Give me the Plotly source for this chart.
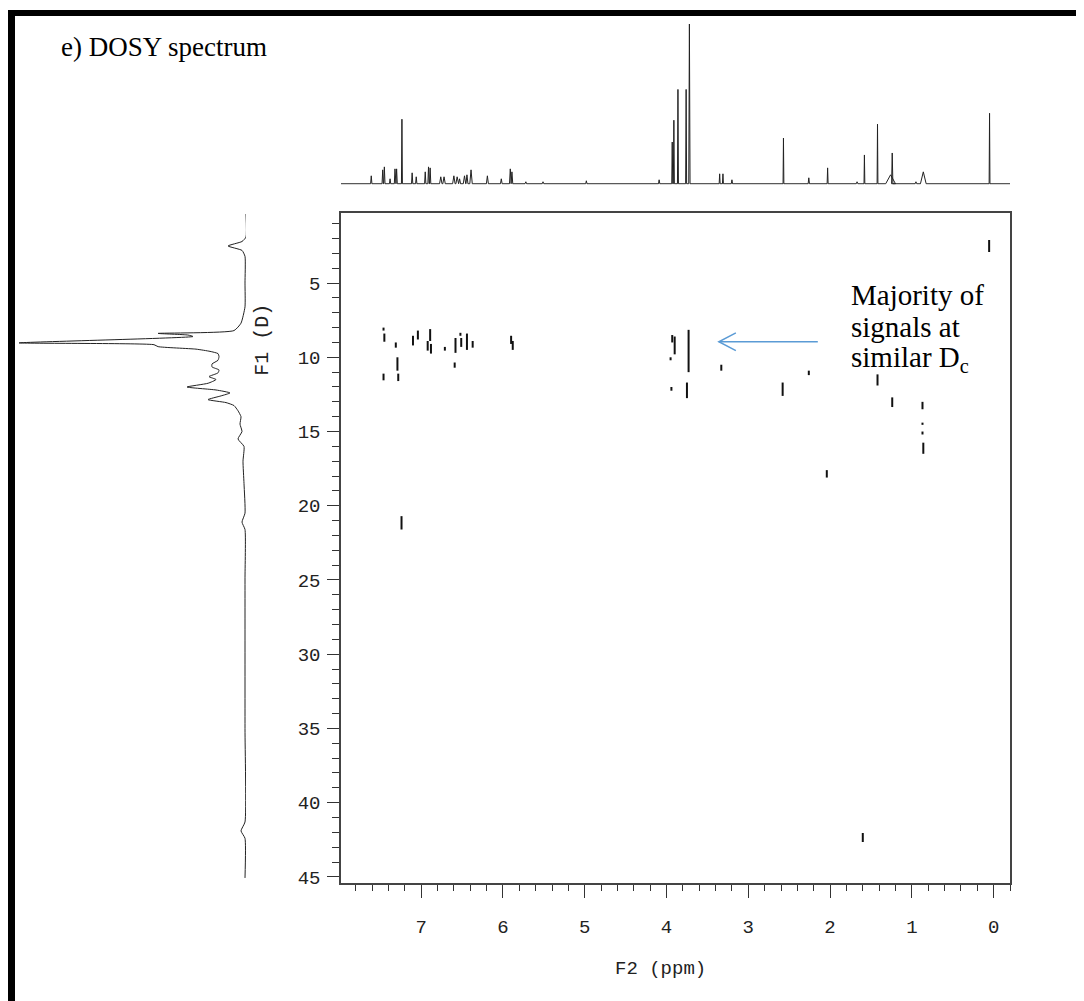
import plotly.graph_objects as go

W, H = 1084, 1001
OFF = 8  # page body margin in the browser

# ---------------- data ----------------
# 1D projection (top): peak positions (ppm), heights (rel.), half widths (ppm)
top_ppm = [7.61, 7.47, 7.45, 7.38, 7.32, 7.30, 7.235, 7.11, 7.06, 6.95, 6.91, 6.89,
           6.76, 6.72, 6.60, 6.56, 6.53, 6.47, 6.44, 6.39, 6.19, 6.02, 5.91, 5.89,
           5.72, 5.51, 4.98, 4.09, 3.93, 3.91, 3.86, 3.76, 3.72, 3.35, 3.31, 3.20,
           2.57, 2.26, 2.03, 1.67, 1.58, 1.42, 1.26, 1.24, 0.95, 0.86, 0.05]
top_int = [8, 14, 17, 5, 15, 15, 65, 11, 7, 12, 17, 16,
           7, 7, 8, 7, 5, 8, 9, 14, 8, 5, 15, 12,
           2, 2, 3, 4, 42, 64, 95, 95, 161, 10, 10, 4,
           46, 6, 16, 2, 29, 60, 9, 31, 2, 12, 71]
top_hw = [0.008, 0.008, 0.008, 0.008, 0.008, 0.008, 0.006, 0.008, 0.008, 0.008, 0.008, 0.008,
          0.015, 0.015, 0.015, 0.015, 0.012, 0.015, 0.012, 0.015, 0.012, 0.01, 0.01, 0.01,
          0.01, 0.01, 0.008, 0.008, 0.006, 0.006, 0.006, 0.006, 0.008, 0.006, 0.006, 0.008,
          0.005, 0.008, 0.006, 0.01, 0.005, 0.005, 0.06, 0.008, 0.01, 0.035, 0.005]

# 1D projection (left): diffusion value vs. intensity
proj_d = [0.35, 1.9, 2.2, 2.5, 2.8, 3.2, 5.0, 6.6, 7.7, 8.2, 8.39, 8.5, 8.6, 9.03, 9.15,
          9.28, 9.45, 9.6, 9.75, 9.95, 10.2, 10.45, 10.65, 10.85, 11.05, 11.3, 11.5,
          11.75, 12.0, 12.2, 12.4, 12.6, 12.85, 13.05, 13.25, 13.6, 14.0, 14.5, 15.0,
          15.5, 16.0, 17.0, 18.5, 20.5, 21.1, 21.6, 25.0, 35.0, 41.3, 41.9, 42.4, 45.07]
proj_int = [0, 0, 4, 18, 4, 1, 1, 1, 5, 12, 88, 58, 53, 227, 92,
            88, 50, 36, 28, 27, 28, 34, 34, 27, 28, 37, 30,
            38, 59, 30, 16, 25, 38, 20, 12, 8, 5, 6, 4,
            8, 2, 3, 2, 1, 4, 1, 1, 1, 1, 5, 1, 1]

# 2D DOSY cross peaks: chemical shift (ppm), D start, D end
sig_ppm = [7.46, 7.45, 7.31, 7.29, 7.46, 7.28, 7.10, 7.04, 6.92, 6.89, 6.88, 6.71,
           6.58, 6.52, 6.51, 6.44, 6.37, 6.59, 5.90, 5.88, 7.24,
           3.93, 3.90, 3.95, 3.73, 3.94, 3.75, 3.33, 2.58, 2.26, 1.42, 1.24,
           0.87, 0.87, 0.87, 0.86, 0.055, 2.04, 1.60]
sig_d0 = [8.0, 8.4, 9.0, 10.0, 11.1, 11.1, 8.55, 8.2, 8.9, 8.1, 9.1, 9.3,
          8.7, 8.35, 8.7, 8.4, 8.9, 10.35, 8.55, 8.9, 20.7,
          8.5, 8.6, 10.0, 8.15, 12.0, 11.7, 10.5, 11.7, 10.9, 11.15, 12.7,
          13.0, 14.4, 15.0, 15.75, 2.1, 17.6, 42.05]
sig_d1 = [8.2, 8.95, 9.35, 10.9, 11.55, 11.6, 9.2, 8.8, 9.55, 8.9, 9.75, 9.55,
          9.7, 8.55, 9.3, 9.5, 9.35, 10.7, 9.1, 9.5, 21.6,
          9.0, 9.8, 10.2, 11.0, 12.25, 12.75, 10.9, 12.6, 11.2, 11.9, 13.35,
          13.5, 14.55, 15.2, 16.5, 2.9, 18.1, 42.65]

x_ticks = [0, 1, 2, 3, 4, 5, 6, 7]
y_ticks = [5, 10, 15, 20, 25, 30, 35, 40, 45]

note_lines = ["Majority of", "signals at", "similar D<sub>c</sub>"]

# ---------------- build traces ----------------
order = sorted(range(len(top_ppm)), key=lambda i: -top_ppm[i])
tx, ty = [8.0], [0]
for i in order:
    p, h, w = top_ppm[i], top_int[i], top_hw[i]
    tx += [p + w, p, p - w]
    ty += [0, h, 0]
tx.append(-0.2)
ty.append(0)

sx, sy = [], []
for p, a, b in zip(sig_ppm, sig_d0, sig_d1):
    sx += [p, p, None]
    sy += [a, b, None]

fig = go.Figure()
fig.add_trace(go.Scatter(x=sx, y=sy, mode="lines", line=dict(color="#111", width=2),
                         xaxis="x", yaxis="y", hoverinfo="skip"))
fig.add_trace(go.Scatter(x=tx, y=ty, mode="lines", line=dict(color="#222", width=1),
                         xaxis="x2", yaxis="y2", hoverinfo="skip"))
fig.add_trace(go.Scatter(x=proj_int, y=proj_d, mode="lines",
                         line=dict(color="#222", width=1, shape="spline", smoothing=0.5),
                         xaxis="x3", yaxis="y3", hoverinfo="skip"))

def px(x):
    return (x - OFF) / W

def py(y):
    return 1 - (y - OFF) / H

mono = dict(family="Liberation Mono, Courier New, monospace", size=19, color="#222")
serif = "Liberation Serif, Times New Roman, serif"

X_RANGE = [7.98, -0.2]
Y_RANGE = [45.4, 0.25]

fig.update_layout(
    width=W, height=H, margin=dict(l=0, r=0, t=0, b=0),
    paper_bgcolor="white", plot_bgcolor="white", showlegend=False,
    xaxis=dict(domain=[px(341), px(1010)], range=X_RANGE, tickvals=x_ticks,
               ticks="outside", ticklen=13, tickwidth=1, tickcolor="#333",
               minor=dict(dtick=0.2, tick0=0, ticks="outside", ticklen=6, tickcolor="#333"),
               showline=True, linecolor="#444", linewidth=1.5, mirror=True,
               showgrid=False, zeroline=False, tickfont=mono, ticklabelstandoff=13),
    yaxis=dict(domain=[py(889), py(214)], range=Y_RANGE, tickvals=y_ticks,
               ticks="outside", ticklen=12, tickwidth=1, tickcolor="#333",
               minor=dict(dtick=1, tick0=0, ticks="outside", ticklen=7, tickcolor="#333"),
               showline=True, linecolor="#444", linewidth=1.5, mirror=True,
               showgrid=False, zeroline=False, tickfont=mono, ticklabelstandoff=3),
    xaxis2=dict(domain=[px(341), px(1010)], range=X_RANGE, visible=False, anchor="y2"),
    yaxis2=dict(domain=[py(186), py(24)], range=[-1, 161], visible=False, anchor="x2"),
    xaxis3=dict(domain=[px(19), px(246)], range=[227, 0], visible=False, anchor="y3"),
    yaxis3=dict(domain=[py(889), py(214)], range=Y_RANGE, visible=False, anchor="x3"),
)

# borders of the figure panel
fig.add_shape(type="rect", xref="paper", yref="paper", x0=px(8), x1=1, y0=py(16), y1=py(10),
              fillcolor="black", line=dict(width=0))
fig.add_shape(type="rect", xref="paper", yref="paper", x0=px(8), x1=px(15), y0=0, y1=py(10),
              fillcolor="black", line=dict(width=0))

# arrow (in data coordinates of the main plot)
arrow_y = 8.95
fig.add_shape(type="line", xref="x", yref="y", x0=2.15, x1=3.36, y0=arrow_y, y1=arrow_y,
              line=dict(color="#5b9bd5", width=1.5))
fig.add_shape(type="path", xref="x", yref="y",
              path=f"M 3.152,{arrow_y - 0.6} L 3.36,{arrow_y} L 3.152,{arrow_y + 0.6}",
              line=dict(color="#5b9bd5", width=1.5))

fig.add_annotation(text="e) DOSY spectrum", xref="paper", yref="paper",
                   x=px(59), y=py(47), xanchor="left", yanchor="middle", showarrow=False,
                   font=dict(family=serif, size=27, color="black"))
for k, line in enumerate(note_lines):
    fig.add_annotation(text=line, xref="paper", yref="paper",
                       x=px(849), y=py(297 + 32 * k), xanchor="left", yanchor="middle",
                       align="left", showarrow=False,
                       font=dict(family=serif, size=29, color="black"))
fig.add_annotation(text="F2 (ppm)", xref="paper", yref="paper", x=px(660), y=py(976),
                   xanchor="center", yanchor="middle", showarrow=False, font=mono)
fig.add_annotation(text="F1 (D)", xref="paper", yref="paper", x=px(263), y=py(342),
                   xanchor="center", yanchor="middle", textangle=-90, showarrow=False,
                   font=dict(mono, size=20))

fig.write_html("out.html")
